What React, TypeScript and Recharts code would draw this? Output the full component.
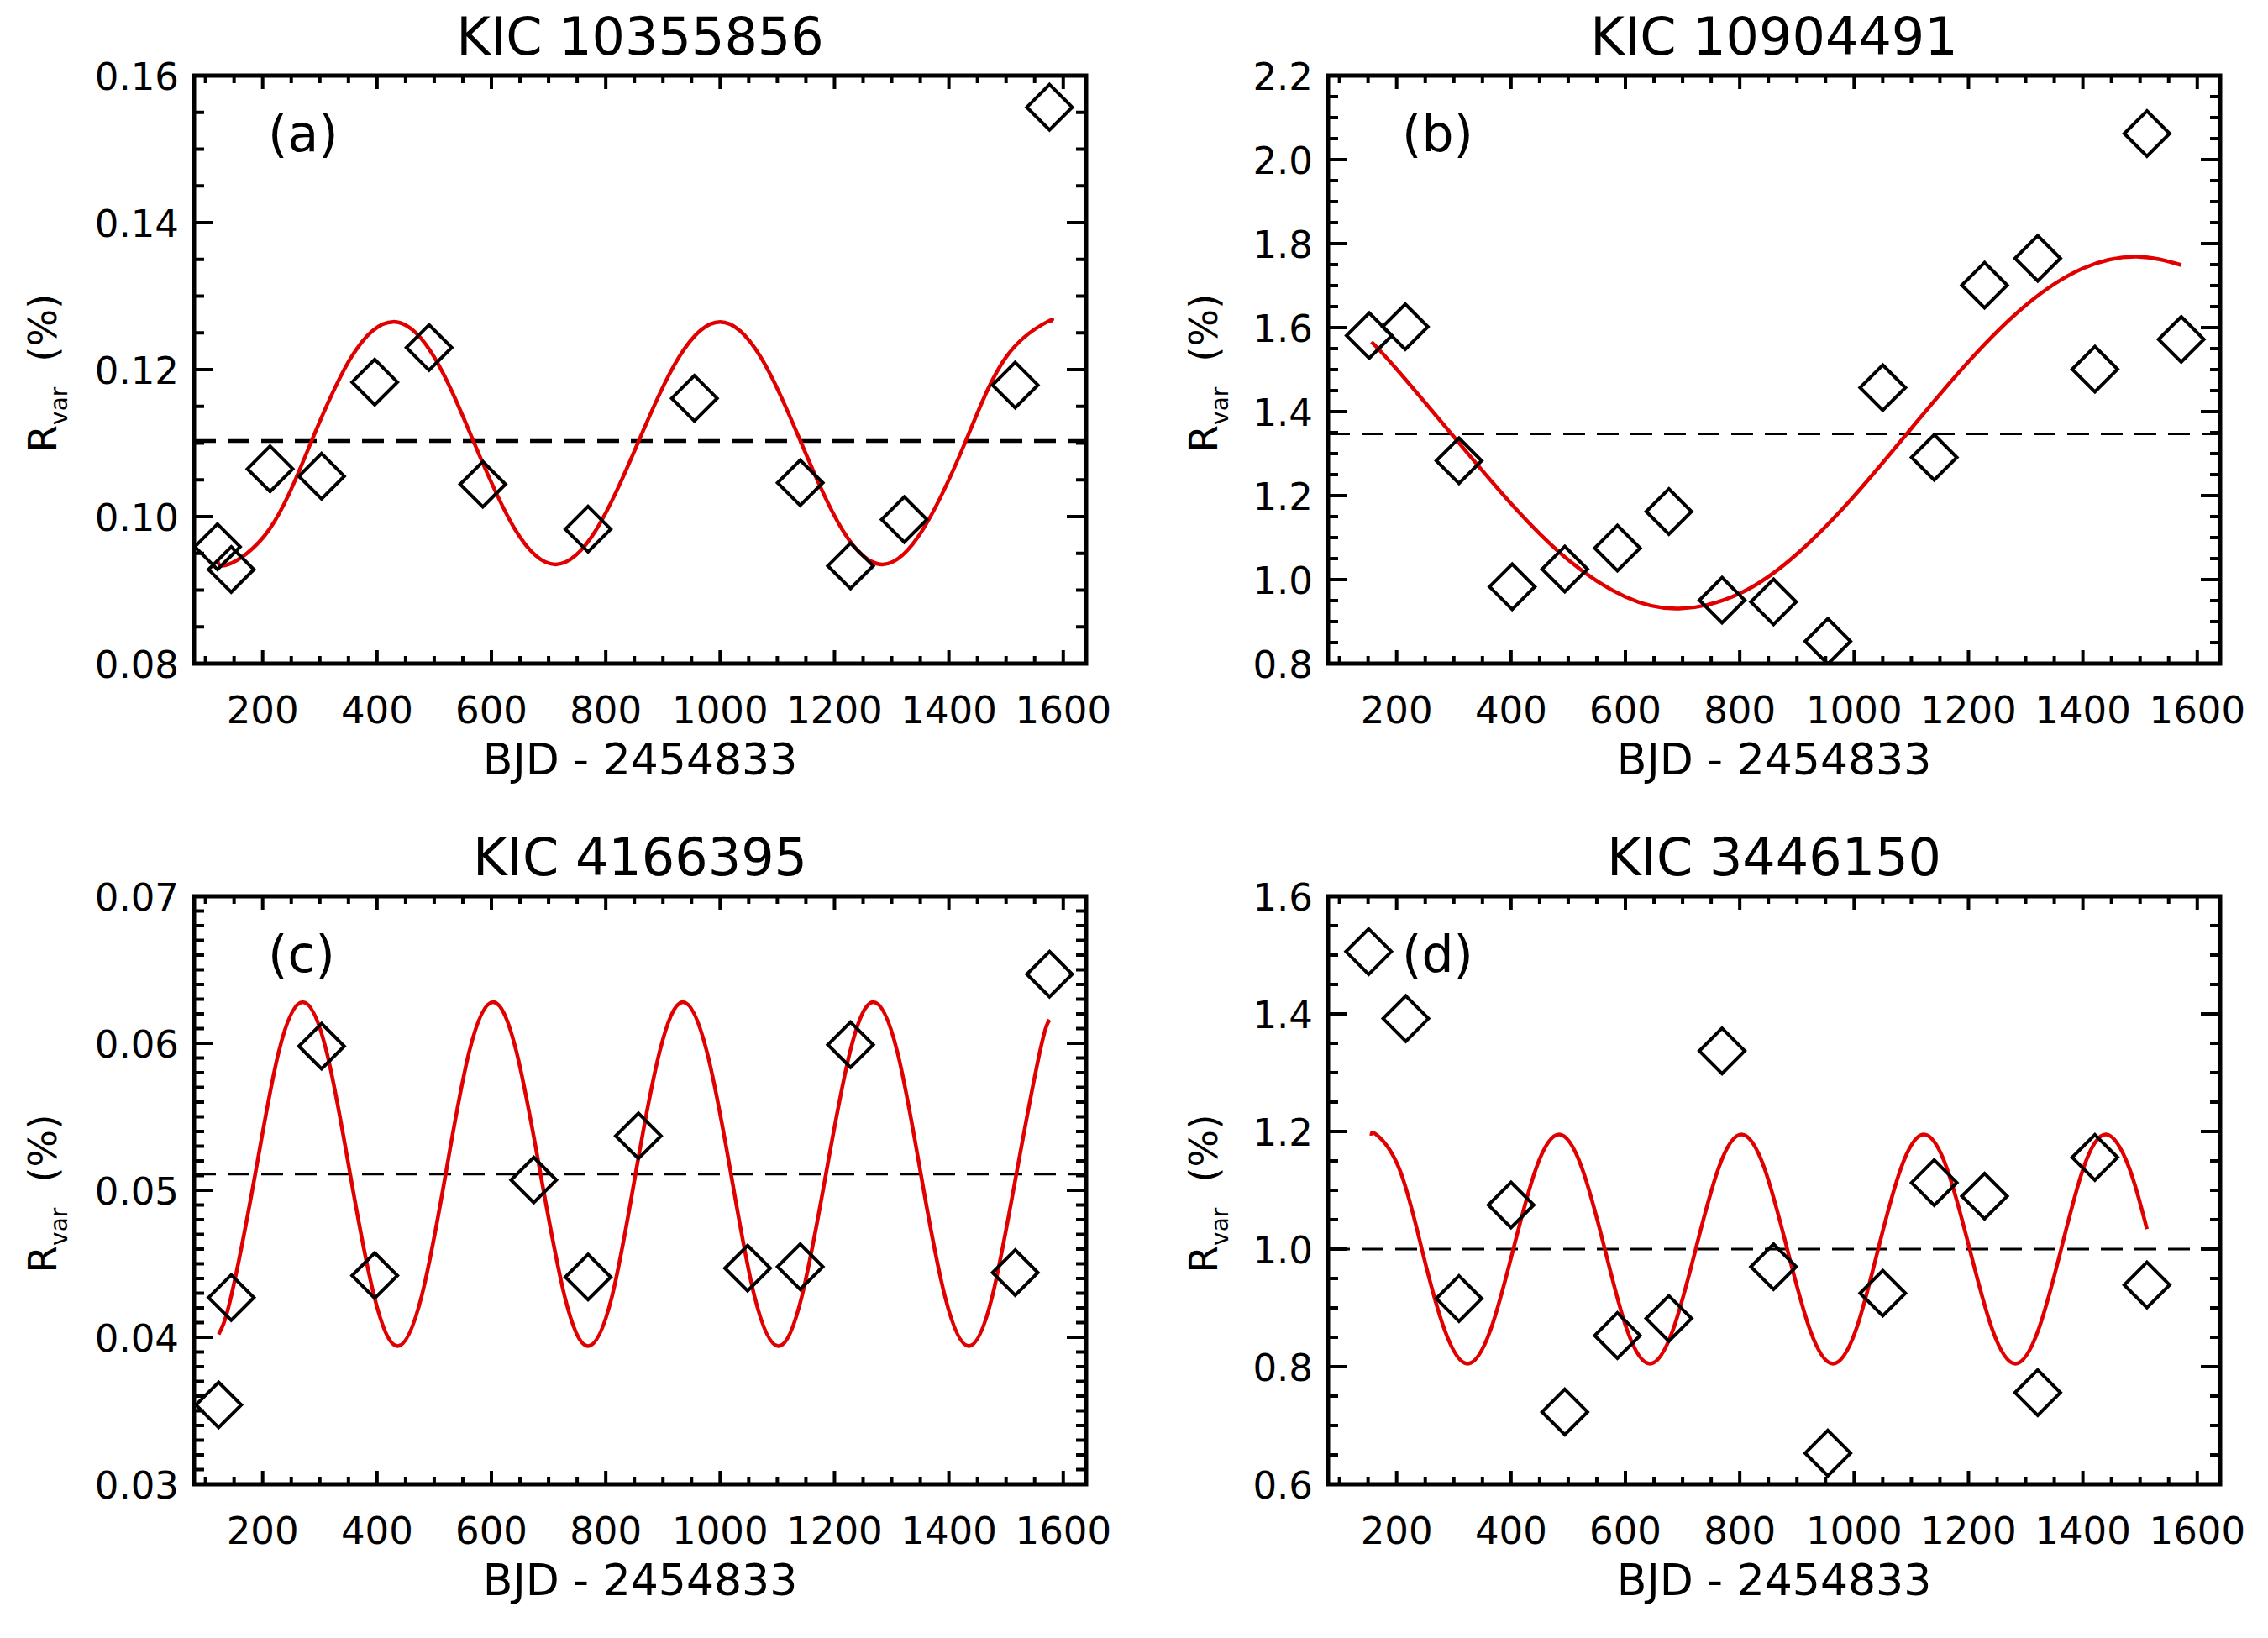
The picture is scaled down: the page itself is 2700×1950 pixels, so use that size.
import React from "react";
import {
  ComposedChart,
  Scatter,
  Line,
  XAxis,
  YAxis,
  ReferenceLine,
  ReferenceArea,
} from "recharts";

const FONT = "'DejaVu Sans', sans-serif";

// shared time axis (BJD - 2454833)
const xDomain = [80, 1640];
const xMajorTicks = [200, 400, 600, 800, 1000, 1200, 1400, 1600];
const xMinorTicks = [
  100, 150, 250, 300, 350, 450, 500, 550, 650, 700, 750, 850, 900, 950, 1050,
  1100, 1150, 1250, 1300, 1350, 1450, 1500, 1550,
];

// (a) KIC 10355856
const aTimes = [121, 145, 213, 303, 396, 491, 585, 769, 955, 1140, 1228, 1322, 1516, 1576];
const aRvar = [0.0959, 0.0928, 0.1065, 0.1055, 0.1183, 0.123, 0.1044, 0.0983, 0.1161, 0.1046, 0.0933, 0.0996, 0.1179, 0.1557];
const aFitTimes = [121, 140, 212, 284, 355, 428, 500, 570, 641, 712, 784, 856, 928, 1000, 1071, 1142, 1213, 1284, 1355, 1428, 1500, 1572, 1576];
const aFit = [0.094, 0.0935, 0.0983, 0.11, 0.1217, 0.1265, 0.1217, 0.11, 0.0983, 0.0935, 0.0983, 0.11, 0.1217, 0.1265, 0.1217, 0.11, 0.0983, 0.0935, 0.0983, 0.11, 0.1217, 0.1265, 0.1265];
const aMean = 0.1103;
const aMajor = [0.08, 0.1, 0.12, 0.14, 0.16];
const aMinor = [0.085, 0.09, 0.095, 0.105, 0.11, 0.115, 0.125, 0.13, 0.135, 0.145, 0.15, 0.155];

// (b) KIC 10904491
const bTimes = [152, 215, 309, 402, 494, 586, 676, 769, 859, 954, 1050, 1140, 1228, 1321, 1421, 1512, 1572];
const bRvar = [1.581, 1.602, 1.283, 0.983, 1.025, 1.075, 1.162, 0.951, 0.947, 0.853, 1.457, 1.291, 1.701, 1.765, 1.501, 2.062, 1.572];
const bFitTimes = [156, 200, 300, 400, 500, 600, 694, 800, 900, 1000, 1100, 1200, 1300, 1400, 1494, 1572];
const bFit = [1.566, 1.501, 1.34, 1.181, 1.047, 0.959, 0.931, 0.967, 1.061, 1.199, 1.36, 1.519, 1.653, 1.741, 1.769, 1.749];
const bMean = 1.347;
const bMajor = [0.8, 1.0, 1.2, 1.4, 1.6, 1.8, 2.0, 2.2];
const bMinor = [0.85, 0.9, 0.95, 1.05, 1.1, 1.15, 1.25, 1.3, 1.35, 1.45, 1.5, 1.55, 1.65, 1.7, 1.75, 1.85, 1.9, 1.95, 2.05, 2.1, 2.15];

// (c) KIC 4166395
const cTimes = [123, 145, 303, 396, 674, 769, 857, 1048, 1140, 1228, 1516, 1576];
const cRvar = [0.0354, 0.0427, 0.0598, 0.0442, 0.0507, 0.0441, 0.0537, 0.0447, 0.0448, 0.0599, 0.0444, 0.0647];
const cFitTimes = [123, 145, 187, 228, 270, 312, 353, 395, 436, 478, 520, 561, 603, 644, 686, 728, 769, 811, 852, 894, 935, 977, 1019, 1060, 1102, 1143, 1185, 1227, 1268, 1310, 1351, 1393, 1435, 1476, 1518, 1559, 1576];
const cFit = [0.0402, 0.0428, 0.0511, 0.0594, 0.0628, 0.0594, 0.0511, 0.0428, 0.0394, 0.0428, 0.0511, 0.0594, 0.0628, 0.0594, 0.0511, 0.0428, 0.0394, 0.0428, 0.0511, 0.0594, 0.0628, 0.0594, 0.0511, 0.0428, 0.0394, 0.0428, 0.0511, 0.0594, 0.0628, 0.0594, 0.0511, 0.0428, 0.0394, 0.0428, 0.0511, 0.0594, 0.0616];
const cMean = 0.0511;
const cMajor = [0.03, 0.04, 0.05, 0.06, 0.07];
const cMinor = [
  0.031, 0.032, 0.033, 0.034, 0.035, 0.036, 0.037, 0.038, 0.039,
  0.041, 0.042, 0.043, 0.044, 0.045, 0.046, 0.047, 0.048, 0.049,
  0.051, 0.052, 0.053, 0.054, 0.055, 0.056, 0.057, 0.058, 0.059,
  0.061, 0.062, 0.063, 0.064, 0.065, 0.066, 0.067, 0.068, 0.069,
];

// (d) KIC 3446150
const dTimes = [151, 216, 309, 400, 494, 586, 676, 769, 859, 954, 1050, 1140, 1228, 1321, 1421, 1512];
const dRvar = [1.506, 1.392, 0.916, 1.075, 0.723, 0.853, 0.882, 1.337, 0.97, 0.653, 0.925, 1.113, 1.09, 0.756, 1.156, 0.939];
const dFitTimes = [156, 164, 204, 244, 284, 324, 364, 404, 444, 484, 524, 564, 603, 643, 683, 723, 763, 803, 843, 883, 923, 963, 1003, 1042, 1082, 1122, 1162, 1202, 1242, 1282, 1322, 1362, 1401, 1441, 1481, 1512];
const dFit = [1.193, 1.195, 1.138, 1.0, 0.862, 0.805, 0.862, 1.0, 1.138, 1.195, 1.138, 1.0, 0.862, 0.805, 0.862, 1.0, 1.138, 1.195, 1.138, 1.0, 0.862, 0.805, 0.862, 1.0, 1.138, 1.195, 1.138, 1.0, 0.862, 0.805, 0.862, 1.0, 1.138, 1.195, 1.138, 1.034];
const dMean = 1.0;
const dMajor = [0.6, 0.8, 1.0, 1.2, 1.4, 1.6];
const dMinor = [0.65, 0.7, 0.75, 0.85, 0.9, 0.95, 1.05, 1.1, 1.15, 1.25, 1.3, 1.35, 1.45, 1.5, 1.55];

const toPoints = (xs: number[], ys: number[]) => xs.map((x, i) => ({ x, y: ys[i] }));

// layout
const CHART_W = 1350;
const PLOT_W = 1062;
const PLOT_H = 700;
const Y_AXIS_W = 231;
const MARGIN_TOP = 90;
const X_AXIS_H = 150;
const CHART_H = MARGIN_TOP + PLOT_H + X_AXIS_H;
// plot edges inside the chart svg
const EDGE_L = Y_AXIS_W;
const EDGE_R = Y_AXIS_W + PLOT_W;
const EDGE_T = MARGIN_TOP;
const EDGE_B = MARGIN_TOP + PLOT_H;

const isMajor = (list: number[], v: number) => list.some((m) => Math.abs(m - v) < 1e-9);

interface PanelProps {
  left: number;
  top: number;
  title: string;
  letter: string;
  times: number[];
  values: number[];
  fitTimes: number[];
  fit: number[];
  mean: number;
  yMajor: number[];
  yMinor: number[];
  digits: number;
  dashWidth: number;
  yLabelOffset: number;
}

function Panel(p: PanelProps) {
  const plotL = p.left + Y_AXIS_W;
  const plotT = p.top + MARGIN_TOP;
  const plotB = plotT + PLOT_H;
  const points = toPoints(p.times, p.values);
  const curve = toPoints(p.fitTimes, p.fit);
  const yDomain = [p.yMajor[0], p.yMajor[p.yMajor.length - 1]];
  const xTicks = [...xMajorTicks, ...xMinorTicks].sort((a, b) => a - b);
  const yTicks = [...p.yMajor, ...p.yMinor].sort((a, b) => a - b);

  // inward ticks on bottom and top, label below
  const xTick = (t: any) => {
    const major = isMajor(xMajorTicks, t.payload.value);
    const len = major ? 16 : 9;
    return (
      <g>
        <line x1={t.x} x2={t.x} y1={EDGE_B} y2={EDGE_B - len} stroke="#000" strokeWidth={4} />
        <line x1={t.x} x2={t.x} y1={EDGE_T} y2={EDGE_T + len} stroke="#000" strokeWidth={4} />
        {major && (
          <text x={t.x} y={EDGE_B + 71} textAnchor="middle" fontSize={45} fontFamily={FONT} fill="#000">
            {t.payload.value}
          </text>
        )}
      </g>
    );
  };
  // inward ticks on left and right, label left
  const yTick = (t: any) => {
    const major = isMajor(p.yMajor, t.payload.value);
    const len = major ? 23 : 12;
    return (
      <g>
        <line x1={EDGE_L} x2={EDGE_L + len} y1={t.y} y2={t.y} stroke="#000" strokeWidth={4} />
        <line x1={EDGE_R} x2={EDGE_R - len} y1={t.y} y2={t.y} stroke="#000" strokeWidth={4} />
        {major && (
          <text x={EDGE_L - 18} y={t.y + 16.5} textAnchor="end" fontSize={45} fontFamily={FONT} fill="#000">
            {Number(t.payload.value).toFixed(p.digits)}
          </text>
        )}
      </g>
    );
  };
  const diamond = (s: any) => (
    <path
      d={`M${s.cx},${s.cy - 27}L${s.cx + 27},${s.cy}L${s.cx},${s.cy + 27}L${s.cx - 27},${s.cy}Z`}
      fill="none"
      stroke="#000"
      strokeWidth={4}
    />
  );

  return (
    <>
      <div style={{ position: "absolute", left: p.left, top: p.top }}>
        <ComposedChart
          width={CHART_W}
          height={CHART_H}
          data={curve}
          margin={{ top: MARGIN_TOP, right: CHART_W - Y_AXIS_W - PLOT_W, bottom: 0, left: 0 }}
        >
          <XAxis
            xAxisId="bottom"
            dataKey="x"
            type="number"
            domain={xDomain}
            allowDataOverflow
            ticks={xTicks}
            interval={0}
            height={X_AXIS_H}
            tickSize={0}
            tickMargin={0}
            tickLine={false}
            axisLine={false}
            tick={xTick}
          />
          <YAxis
            yAxisId="left"
            dataKey="y"
            type="number"
            domain={yDomain}
            allowDataOverflow
            ticks={yTicks}
            interval={0}
            width={Y_AXIS_W}
            tickSize={0}
            tickMargin={0}
            tickLine={false}
            axisLine={false}
            tick={yTick}
          />
          <ReferenceArea
            xAxisId="bottom"
            yAxisId="left"
            x1={xDomain[0]}
            x2={xDomain[1]}
            y1={yDomain[0]}
            y2={yDomain[1]}
            fill="none"
            fillOpacity={0}
            stroke="#000"
            strokeWidth={5}
            ifOverflow="visible"
          />
          <ReferenceLine
            xAxisId="bottom"
            yAxisId="left"
            y={p.mean}
            stroke="#000"
            strokeWidth={p.dashWidth}
            strokeDasharray="26 14"
          />
          <Line
            xAxisId="bottom"
            yAxisId="left"
            dataKey="y"
            type="natural"
            stroke="#e00000"
            strokeWidth={4.5}
            dot={false}
            activeDot={false}
            isAnimationActive={false}
          />
          <Scatter
            xAxisId="bottom"
            yAxisId="left"
            data={points}
            dataKey="y"
            shape={diamond}
            isAnimationActive={false}
          />
        </ComposedChart>
      </div>

      <div
        style={{
          position: "absolute",
          left: plotL,
          width: PLOT_W,
          top: plotT - 47 - 0.48 * 62,
          textAlign: "center",
          fontSize: 62,
          lineHeight: 1,
          whiteSpace: "pre",
        }}
      >
        {p.title}
      </div>
      <div
        style={{
          position: "absolute",
          left: plotL + 88,
          top: plotT + 39,
          fontSize: 60,
          lineHeight: 1,
        }}
      >
        {p.letter}
      </div>
      <div
        style={{
          position: "absolute",
          left: plotL,
          width: PLOT_W,
          top: plotB + 113 - 0.48 * 52,
          textAlign: "center",
          fontSize: 52,
          lineHeight: 1,
          whiteSpace: "pre",
        }}
      >
        BJD - 2454833
      </div>
      <div
        style={{
          position: "absolute",
          left: plotL - p.yLabelOffset,
          top: plotT + PLOT_H / 2 + 4,
          transform: "translate(-50%, -50%) rotate(-90deg)",
          fontSize: 47,
          lineHeight: 1,
          whiteSpace: "pre",
        }}
      >
        R
        <span style={{ fontSize: 28, position: "relative", top: 13 }}>var</span>
        {"  (%)"}
      </div>
    </>
  );
}

export default function App() {
  return (
    <div
      style={{
        position: "absolute",
        left: 0,
        top: 0,
        width: 2700,
        height: 1950,
        background: "#fff",
        fontFamily: FONT,
        color: "#000",
        overflow: "hidden",
      }}
    >
      <Panel
        left={0}
        top={0}
        title="KIC 10355856"
        letter="(a)"
        times={aTimes}
        values={aRvar}
        fitTimes={aFitTimes}
        fit={aFit}
        mean={aMean}
        yMajor={aMajor}
        yMinor={aMinor}
        digits={2}
        dashWidth={4.5}
        yLabelOffset={181}
      />
      <Panel
        left={1350}
        top={0}
        title="KIC 10904491"
        letter="(b)"
        times={bTimes}
        values={bRvar}
        fitTimes={bFitTimes}
        fit={bFit}
        mean={bMean}
        yMajor={bMajor}
        yMinor={bMinor}
        digits={1}
        dashWidth={3}
        yLabelOffset={149}
      />
      <Panel
        left={0}
        top={977}
        title="KIC 4166395"
        letter="(c)"
        times={cTimes}
        values={cRvar}
        fitTimes={cFitTimes}
        fit={cFit}
        mean={cMean}
        yMajor={cMajor}
        yMinor={cMinor}
        digits={2}
        dashWidth={3}
        yLabelOffset={181}
      />
      <Panel
        left={1350}
        top={977}
        title="KIC 3446150"
        letter="(d)"
        times={dTimes}
        values={dRvar}
        fitTimes={dFitTimes}
        fit={dFit}
        mean={dMean}
        yMajor={dMajor}
        yMinor={dMinor}
        digits={1}
        dashWidth={3}
        yLabelOffset={149}
      />
    </div>
  );
}
